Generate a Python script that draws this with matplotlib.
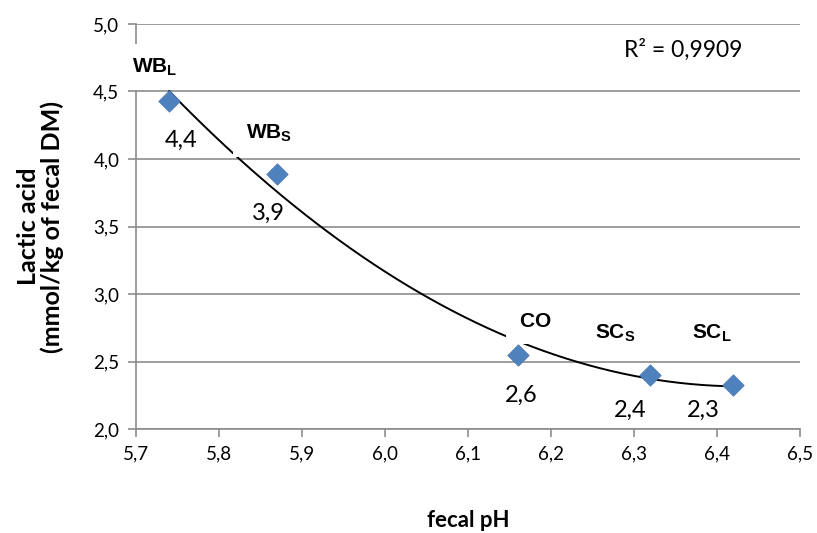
import numpy as np
import matplotlib
matplotlib.use("Agg")
import matplotlib.pyplot as plt
from matplotlib.ticker import MultipleLocator, FuncFormatter

plt.rcParams['mathtext.fontset'] = 'custom'
plt.rcParams['mathtext.bf'] = 'Liberation Sans:bold'
plt.rcParams['mathtext.rm'] = 'Liberation Sans'

# Data
groups = ["WB_L", "WB_S", "CO", "SC_S", "SC_L"]
group_labels = [r"$\mathbf{WB}_{\mathbf{L}}$", r"$\mathbf{WB}_{\mathbf{S}}$", r"$\mathbf{CO}$",
                r"$\mathbf{SC}_{\mathbf{S}}$", r"$\mathbf{SC}_{\mathbf{L}}$"]
fecal_ph = [5.74, 5.87, 6.16, 6.32, 6.42]
lactic_acid = [4.43, 3.89, 2.55, 2.40, 2.33]
value_labels = ["4,4", "3,9", "2,6", "2,4", "2,3"]
r2_text = "R² = 0,9909"

x = np.array(fecal_ph)
y = np.array(lactic_acid)

fig = plt.figure(figsize=(8.17, 5.33), dpi=100)
ax = fig.add_axes([0.1665, 0.195, 0.8125, 0.760])

ax.set_xlim(5.7, 6.5)
ax.set_ylim(2.0, 5.0)
ax.xaxis.set_major_locator(MultipleLocator(0.1))
ax.yaxis.set_major_locator(MultipleLocator(0.5))
fmt = FuncFormatter(lambda v, p: f"{v:.1f}".replace(".", ","))
ax.xaxis.set_major_formatter(fmt)
ax.yaxis.set_major_formatter(fmt)

grid_c = "#8c8c8c"
ax.grid(axis='y', color=grid_c, linewidth=1.2, zorder=0)
for s in ['top', 'right']:
    ax.spines[s].set_visible(False)
for s in ['left', 'bottom']:
    ax.spines[s].set_color(grid_c)
    ax.spines[s].set_linewidth(1.2)
ax.tick_params(axis='both', direction='out', length=6, width=1.2, color=grid_c,
               labelsize=13.5, pad=6)
for lab in ax.get_xticklabels() + ax.get_yticklabels():
    lab.set_fontfamily('Lato')

# Trendline (2nd order polynomial)
coef = np.polyfit(x, y, 2)
xs = np.linspace(x.min(), x.max(), 200)
ax.plot(xs, np.polyval(coef, xs), color='black', linewidth=1.4, zorder=2)

ax.scatter(x, y, marker='D', s=120, color='#4f81bd', edgecolor='#4a7ab5',
           linewidth=0.5, zorder=5, clip_on=False)

# Group labels (white label boxes hide parts of the trendline / axis)
name_offsets = [(-0.017, 0.25), (-0.01, 0.30), (0.021, 0.25), (-0.043, 0.31), (-0.026, 0.38)]
for xi, yi, lab, (dx, dy) in zip(x, y, group_labels, name_offsets):
    ax.text(xi + dx, yi + dy, lab, fontsize=15, ha='center', va='center', zorder=4,
            clip_on=False,
            bbox=dict(boxstyle='square,pad=0.6', facecolor='white', edgecolor='none'))

val_offsets = [(0.014, -0.29), (-0.011, -0.29), (0.004, -0.30), (-0.024, -0.26), (-0.036, -0.19)]
for xi, yi, lab, (dx, dy) in zip(x, y, value_labels, val_offsets):
    ax.text(xi + dx, yi + dy, lab, fontsize=17, ha='center', va='center', zorder=4,
            family='Lato')

ax.text(6.359, 4.81, r2_text, fontsize=16.5, ha='center', va='center', family='Lato')

ax.set_xlabel("fecal pH", fontsize=16, fontweight='bold', family='Lato', labelpad=34)
ax.set_ylabel("Lactic acid\n(mmol/kg of fecal DM)", fontsize=18, fontweight='bold',
              family='Lato', linespacing=1.05)
ax.yaxis.set_label_coords(-0.108, 0.5)

fig.savefig("out.png", dpi=100)
